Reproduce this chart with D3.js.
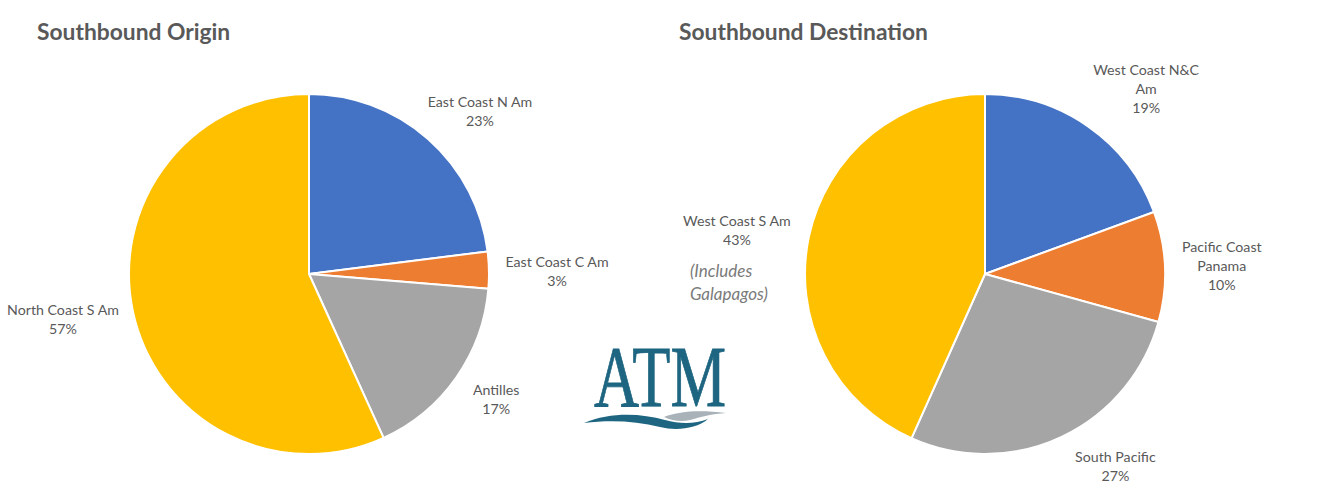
<!DOCTYPE html>
<html><head><meta charset="utf-8">
<script src="https://cdn.jsdelivr.net/npm/d3@7"></script>
<style>
html,body{margin:0;padding:0;background:#fff;}
svg text{font-family:Lato,"Open Sans",sans-serif;}
</style></head>
<body><svg id="c" width="1320" height="503"></svg>
<script>
// ---- data ----
const originTitle = "Southbound Origin";
const originCategories = ["East Coast N Am", "East Coast C Am", "Antilles", "North Coast S Am"];
const originValues = [23.0, 3.3, 16.9, 56.8];
const originLabels = [["East Coast N Am"], ["East Coast C Am"], ["Antilles"], ["North Coast S Am"]];

const destTitle = "Southbound Destination";
const destCategories = ["West Coast N&C Am", "Pacific Coast Panama", "South Pacific", "West Coast S Am"];
const destValues = [19.4, 9.9, 27.4, 43.3];
const destLabels = [["West Coast N&C", "Am"], ["Pacific Coast", "Panama"], ["South Pacific"], ["West Coast S Am"]];
const destNote = ["(Includes", "Galapagos)"];

const colors = ["#4472C4", "#ED7D31", "#A5A5A5", "#FFC000"];

// ---- layout ----
const svg = d3.select("#c");
const R = 180;
const pies = [
  {title: originTitle, cats: originCategories, vals: originValues, labels: originLabels,
   cx: 309, cy: 274, tx: 37,
   lab: [{a: 5, d: 236, dy: 0}, {a: 2, d: 248, dy: -6}, {a: -1, d: 226, dy: -1}, {a: 2, d: 250, dy: 1}]},
  {title: destTitle, cats: destCategories, vals: destValues, labels: destLabels,
   cx: 985, cy: 274, tx: 679,
   lab: [{a: 6, d: 246, dy: 1}, {a: 0, d: 237, dy: 2}, {a: -9, d: 232, dy: 1}, {a: -2, d: 252, dy: 1}]}
];

const pieGen = d3.pie().sort(null).value(d => d);
const arc = d3.arc().innerRadius(0).outerRadius(R);
const fmt = d3.format(".0%");

pies.forEach((p, pi) => {
  svg.append("text").attr("x", p.tx).attr("y", 40)
    .attr("font-size", 22.8).attr("font-weight", 700).attr("fill", "#595959")
    .text(p.title);
  const g = svg.append("g").attr("transform", `translate(${p.cx},${p.cy})`);
  const arcs = pieGen(p.vals);
  const total = d3.sum(p.vals);
  g.selectAll("path").data(arcs).join("path")
    .attr("d", arc).attr("fill", (d, i) => colors[i])
    .attr("stroke", "#fff").attr("stroke-width", 2).attr("stroke-linejoin", "round");
  arcs.forEach((d, i) => {
    const L = p.lab[i];
    const mid = (d.startAngle + d.endAngle) / 2 + L.a * Math.PI / 180;
    const x = L.d * Math.sin(mid), y = -L.d * Math.cos(mid) + L.dy;
    const lines = p.labels[i].concat([fmt(d.value / total)]);
    const n = lines.length;
    const t = g.append("text").attr("text-anchor", "middle")
      .attr("font-size", 14.2).attr("fill", "#595959");
    lines.forEach((ln, k) => {
      t.append("tspan").attr("x", x).attr("y", y + (k - (n - 1) / 2) * 19 + 5).text(ln);
    });
    if (pi === 1 && i === 3) {
      const nt = g.append("text").attr("font-size", 17).attr("font-style", "italic")
        .attr("fill", "#7a7a7a");
      destNote.forEach((ln, k) => {
        nt.append("tspan").attr("x", x - 47).attr("y", y + 2 * 19 + 8 + k * 23).text(ln);
      });
    }
  });
});

// ---- ATM logo ----
const logo = svg.append("g");
logo.append("text").attr("x", 594).attr("y", 406)
  .attr("font-size", 86).attr("fill", "#1D6580")
  .attr("stroke", "#1D6580").attr("stroke-width", 0.8)
  .attr("textLength", 132).attr("lengthAdjust", "spacingAndGlyphs")
  .style("font-family", "'Liberation Serif','DejaVu Serif',serif")
  .text("ATM");
logo.append("path")
  .attr("d", "M584,423 C610,412 640,413 665,420 C680,424 695,424 708,419 C696,429 676,431 660,427 C636,421 610,420 584,423 Z")
  .attr("fill", "#1D6580");
logo.append("path")
  .attr("d", "M664,417 C680,411 700,410 726,413 C712,414 700,417 690,420 C682,422 672,421 664,417 Z")
  .attr("fill", "#A8B2B8");
</script></body></html>
